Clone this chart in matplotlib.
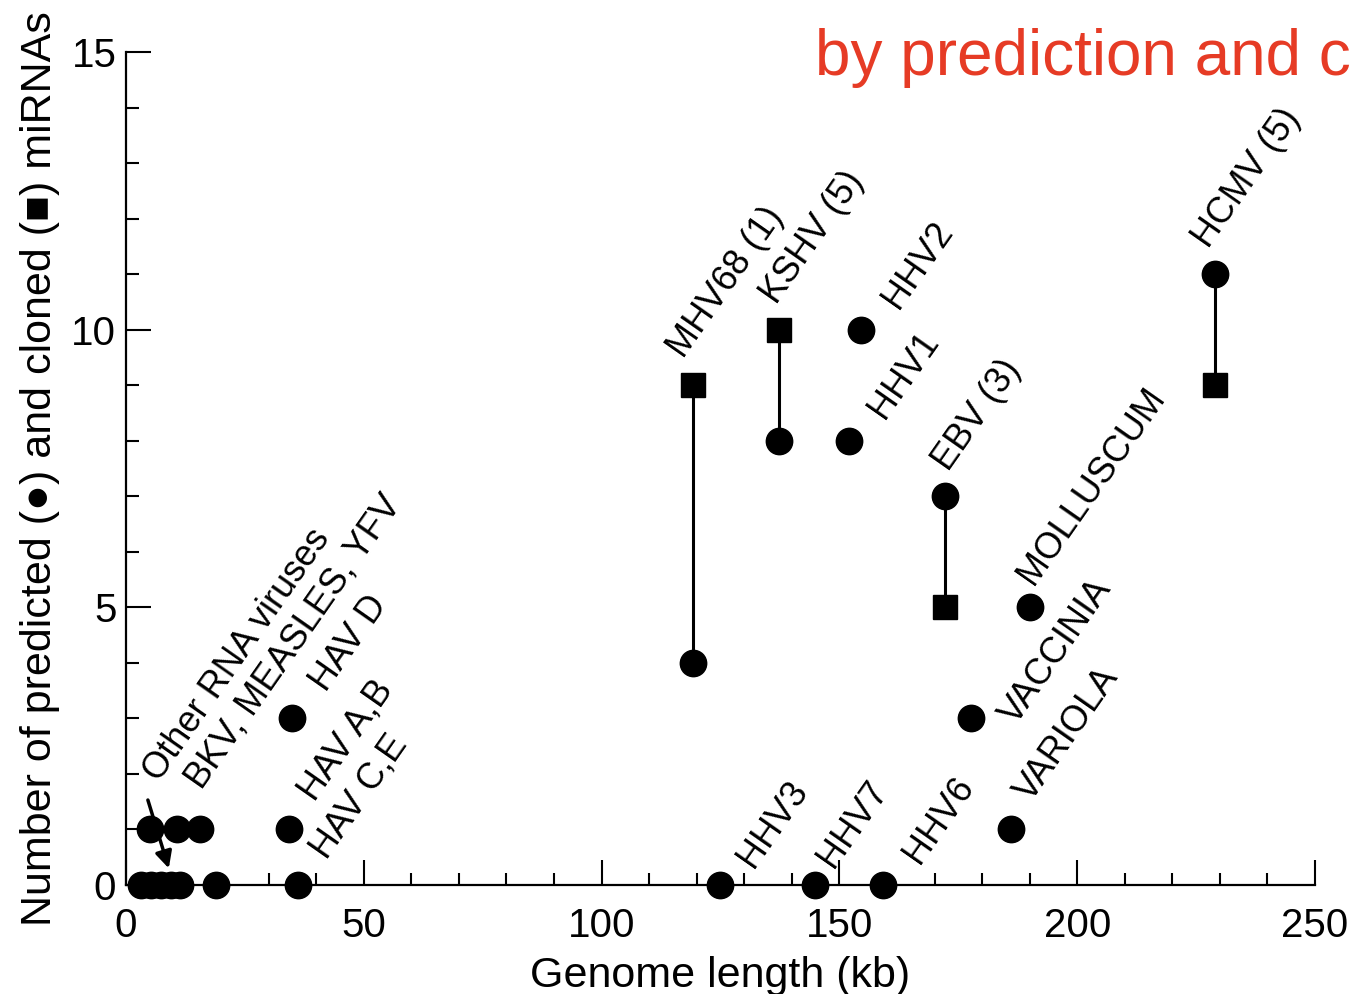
import matplotlib
matplotlib.use("Agg")
import matplotlib.pyplot as plt
from matplotlib.ticker import MultipleLocator

plt.rcParams['font.family'] = ['Liberation Sans', 'DejaVu Sans']

# ---- data ----
# predicted miRNAs (circles)
pred_x = [3.2, 5.3, 7.4, 9.5, 11.4, 18.9, 36.2,
          5.0, 10.7, 15.6, 34.3, 34.9,
          119.2, 137.3, 152.0, 154.5, 172.2, 190.1, 177.7, 186.1, 229.0,
          124.9, 144.9, 159.2]
pred_y = [0, 0, 0, 0, 0, 0, 0,
          1, 1, 1, 1, 3,
          4, 8, 8, 10, 7, 5, 3, 1, 11,
          0, 0, 0]
# cloned miRNAs (squares)
clon_x = [119.2, 137.3, 172.2, 229.0]
clon_y = [9, 10, 5, 9]
# links predicted <-> cloned
link_x = [119.2, 137.3, 172.2, 229.0]
link_pred = [4, 8, 7, 11]
link_clon = [9, 10, 5, 9]

labels = ["Other RNA viruses", "BKV, MEASLES, YFV", "HAV D", "HAV A,B", "HAV C,E",
          "HHV3", "HHV7", "HHV6", "VARIOLA", "VACCINIA", "MOLLUSCUM",
          "EBV (3)", "HHV1", "HHV2", "KSHV (5)", "MHV68 (1)", "HCMV (5)"]
label_x = [3.6, 12.4, 38.7, 36.2, 38.7,
           128.5, 145.3, 163.4, 186.9, 183.8, 187.3,
           169.5, 156.0, 159.0, 133.3, 113.8, 224.1]
label_y = [1.89, 1.75, 3.5, 1.53, 0.49,
           0.34, 0.34, 0.41, 1.53, 2.92, 5.44,
           7.48, 8.43, 10.41, 10.49, 9.51, 11.5]

xticks = [0, 50, 100, 150, 200, 250]
yticks = [0, 5, 10, 15]

# ---- figure ----
W, H = 1353, 994
fig = plt.figure(figsize=(W / 100, H / 100), dpi=100)
ax = fig.add_axes([126 / W, 1 - 885 / H, (1315 - 126) / W, (885 - 52) / H])
ax.set_xlim(0, 250)
ax.set_ylim(0, 15)

for x, a, b in zip(link_x, link_pred, link_clon):
    ax.plot([x, x], [a, b], color='black', lw=2.2, zorder=2)

ax.plot(pred_x, pred_y, 'o', color='black', ms=19, clip_on=False, zorder=3)
ax.plot(clon_x, clon_y, 's', color='black', ms=17, clip_on=False, zorder=3)

DX, DY = 3.4, -0.05  # label offset (layout)
for t, x, y in zip(labels, label_x, label_y):
    ax.text(x + DX, y + DY, t, rotation=55, rotation_mode='anchor', ha='left', va='baseline',
            fontsize=26, color='black')

ax.annotate('', xy=(9.0, 0.30), xytext=(4.6, 1.53),
            arrowprops=dict(arrowstyle='-|>', color='black', lw=2.5,
                            mutation_scale=25, shrinkA=0, shrinkB=0))

for s in ['top', 'right']:
    ax.spines[s].set_visible(False)
for s in ['left', 'bottom']:
    ax.spines[s].set_linewidth(1.6)

ax.set_xticks(xticks)
ax.set_yticks(yticks)
ax.xaxis.set_minor_locator(MultipleLocator(10))
ax.yaxis.set_minor_locator(MultipleLocator(1))
ax.tick_params(which='major', direction='in', length=18, width=1.5, labelsize=29)
ax.tick_params(which='minor', direction='in', length=9, width=1.5)
ax.tick_params(axis='x', which='major', pad=16)
ax.tick_params(axis='y', which='major', pad=7)

ax.set_xlabel('Genome length (kb)', fontsize=31, labelpad=8)
ax.set_ylabel('Number of predicted (\u25cf) and cloned (\u25a0) miRNAs', fontsize=31,
              labelpad=8)

fig.text(815 / W, 1 - 75 / H, 'by prediction and c', color='#e63b25', fontsize=46,
         ha='left', va='baseline')

fig.savefig('out.png', dpi=100)
